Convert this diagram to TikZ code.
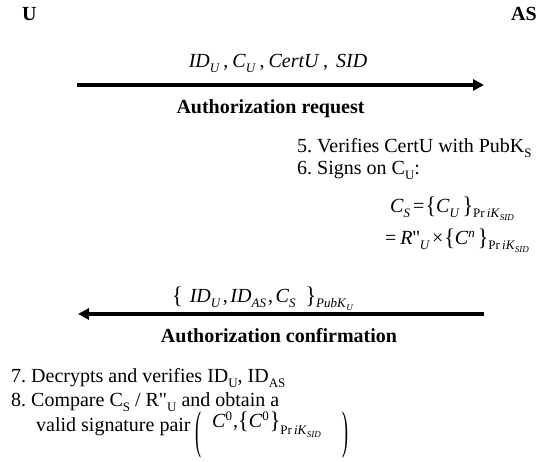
\documentclass[tikz,border=0pt]{standalone}
\usepackage{fontspec}
\setmainfont{Liberation Serif}
\newfontfamily\rawfont{Liberation Serif}
\usetikzlibrary{arrows.meta}
\frenchspacing
\newcommand\lsub[1]{\raisebox{-4.5pt}{\fontsize{13}{13}\selectfont #1}}
\newcommand\lsup[1]{\raisebox{7.5pt}{\fontsize{13}{13}\selectfont #1}}
\newcommand\ssub[1]{\raisebox{-3pt}{\fontsize{9}{9}\selectfont #1}}
\newcommand\prik{Pr\,\textit{iK}\ssub{\textit{SID}}}
\newcommand\lbr{\raisebox{-1pt}{\scalebox{1.1}[1.2]{\{}}}
\newcommand\rbr{\raisebox{-1pt}{\scalebox{1.1}[1.2]{\}}}}
\newcommand\cm{\hspace{2pt},\hspace{2.5pt}}
\newcommand\wcm{\hspace{3.5pt},\hspace{4pt}}
\tikzset{
  txt/.style={inner sep=0pt, anchor=base west, font=\fontsize{20}{22}\selectfont},
  ctxt/.style={inner sep=0pt, anchor=base, font=\fontsize{20}{22}\selectfont},
  btxt/.style={inner sep=0pt, anchor=base, font=\fontsize{20}{22}\selectfont\bfseries},
  msg/.style={line width=3.5pt, -{Triangle[length=11pt,width=11pt]}}
}
\begin{document}
\begin{tikzpicture}[x=1pt,y=1pt]
\useasboundingbox (0,0) rectangle (538,462);
% parties
\node[txt, font=\fontsize{20}{22}\selectfont\bfseries] (U) at (22,441.5) {U};
\node[txt, font=\fontsize{20}{22}\selectfont\bfseries] (AS) at (511,441.5) {AS};
% message 1
\coordinate (m1s) at (77,377);
\coordinate (m1e) at (484,377);
\draw[msg] (m1s) -- (m1e);
\node[ctxt] (l1) at (278,394) {\textit{ID}\lsub{\textit{U}}\wcm\textit{C}\lsub{\textit{U}}\wcm\textit{CertU}\wcm\hspace{4pt}\textit{SID}};
\node[btxt] (n1) at (270.5,348) {Authorization request};
% AS steps
\node[txt] (s5) at (297,309) {5. Verifies CertU with PubK\lsub{S}};
\node[txt] (s6) at (297,287) {6. Signs on C\lsub{U}:};
\node[txt] (f1) at (390,249) {\textit{C}\lsub{\textit{S}}\hspace{3pt}=\hspace{1pt}\lbr\textit{C}\lsub{\textit{U}}\hspace{3pt}\rbr\lsub{\prik}};
\node[txt] (f2) at (385,217) {=\hspace{4pt}\textit{R}{\rawfont''}\lsub{\textit{U}}\hspace{2pt}×\hspace{1pt}\lbr\textit{C}\lsup{\textit{n}}\hspace{3pt}\rbr\lsub{\prik}};
% message 2
\coordinate (m2s) at (484,148);
\coordinate (m2e) at (78,148);
\draw[msg] (m2s) -- (m2e);
\node[txt] (l2) at (172,159) {\lbr\hspace{7pt}\textit{ID}\lsub{\textit{U}}\cm\textit{ID}\lsub{\textit{AS}}\cm\textit{C}\lsub{\textit{S}}\hspace{10pt}\rbr\lsub{\textit{PubK}\ssub{\textit{U}}}};
\node[btxt] (n2) at (279,119) {Authorization confirmation};
% U steps
\node[txt] (s7) at (11,79) {7. Decrypts and verifies ID\lsub{U}, ID\lsub{AS}};
\node[txt] (s8) at (11,55) {8. Compare C\lsub{S} / R{\rawfont"}\lsub{U} and obtain a};
\node[txt] (s9) at (36,30) {valid signature pair};
\node[inner sep=0pt, font=\fontsize{20}{22}\selectfont] (pl) at (198,27) {\scalebox{0.9}[2.6]{(}};
\node[txt] (f3) at (212,34) {\textit{C}\lsup{0}\hspace{1pt},\lbr\textit{C}\lsup{0}\hspace{1pt}\rbr\raisebox{-7pt}{\fontsize{13}{13}\selectfont\prik}};
\node[inner sep=0pt, font=\fontsize{20}{22}\selectfont] (pr) at (345,27) {\scalebox{0.9}[2.6]{)}};
\end{tikzpicture}
\end{document}
